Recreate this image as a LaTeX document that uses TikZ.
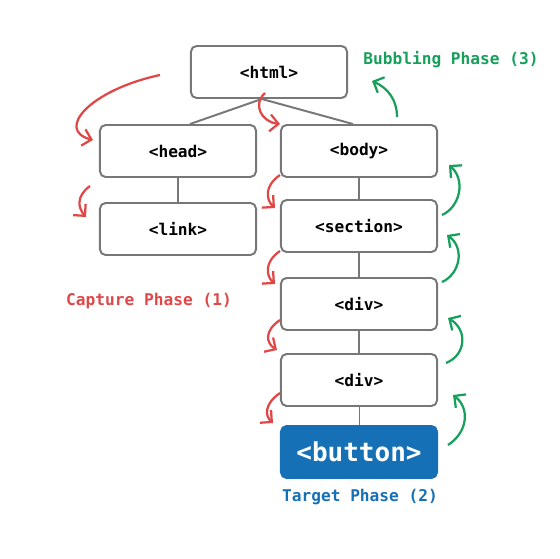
\documentclass[tikz,border=0pt]{standalone}
\usepackage{fontspec}
\setmonofont{DejaVu Sans Mono}
\usepackage{tikz}
\usetikzlibrary{arrows.meta}
\definecolor{capred}{HTML}{E04848}
\definecolor{bubgreen}{HTML}{17A05B}
\definecolor{tgtblue}{HTML}{1670B6}
\definecolor{boxgray}{HTML}{777777}

\begin{document}
\begin{tikzpicture}[x=0.025cm,y=-0.025cm,font=\ttfamily\bfseries\fontsize{11.5}{14}\selectfont]
\tikzstyle{tag}=[draw=boxgray,line width=1.4pt,rounded corners=4pt,minimum width=3.9cm,minimum height=1.3cm,fill=white]
\tikzstyle{capture}=[capred,line width=1.6pt,-{Straight Barb[length=6pt,width=12pt]}]
\tikzstyle{bubble}=[bubgreen,line width=1.6pt,-{Straight Barb[length=6pt,width=12pt]}]
\useasboundingbox (0,0) rectangle (559,559);

\node[tag] (html) at (269,72) {<html>};
\node[tag] (head) at (178,151) {<head>};
\node[tag] (link) at (178,229) {<link>};
\node[tag] (body) at (359,151) {<body>};
\node[tag] (section) at (359,226) {<section>};
\node[tag] (div1) at (359,304) {<div>};
\node[tag] (div2) at (359,380) {<div>};
\node[tag,draw=tgtblue,fill=tgtblue,text=white,font=\ttfamily\bfseries\fontsize{18.5}{22}\selectfont] (button) at (359,452) {<button>};

\draw[boxgray,line width=1.4pt] ([xshift=-0.18cm]html.south) -- ([xshift=0.3cm]head.north);
\draw[boxgray,line width=1.4pt] ([xshift=-0.18cm]html.south) -- ([xshift=-0.15cm]body.north);
\draw[boxgray,line width=1.4pt] (head) -- (link);
\draw[boxgray,line width=1.4pt] (body) -- (section) -- (div1) -- (div2);
\draw[capred,line width=0.6pt] (div2) -- (button);

\node[capred] (capture) at (149,301) {Capture Phase (1)};
\node[tgtblue] (target) at (360,497) {Target Phase (2)};
\node[bubgreen] (bubbling) at (451,60) {Bubbling Phase (3)};

% capture phase, going down
\draw[capture] (160,75) .. controls (90,90) and (55,130) .. (93,140);
\draw[capture] (265,93) .. controls (252,105) and (262,122) .. (280,124);
\draw[capture] (90,186) .. controls (76,196) and (78,208) .. (86,217);
\draw[capture] (280,175) .. controls (264,186) and (266,200) .. (275,208);
\draw[capture] (280,251) .. controls (264,262) and (266,276) .. (275,284);
\draw[capture] (280,320) .. controls (264,331) and (266,343) .. (277,350);
\draw[capture] (280,393) .. controls (264,404) and (265,416) .. (273,423);

% bubbling phase, going up
\draw[bubble] (448,445) .. controls (468,432) and (470,408) .. (453,395);
\draw[bubble] (446,363) .. controls (466,355) and (468,330) .. (448,318);
\draw[bubble] (442,282) .. controls (460,274) and (465,248) .. (447,235);
\draw[bubble] (442,215) .. controls (460,207) and (466,180) .. (449,165);
\draw[bubble] (397,117) .. controls (397,100) and (388,88) .. (372,81);
\end{tikzpicture}
\end{document}
